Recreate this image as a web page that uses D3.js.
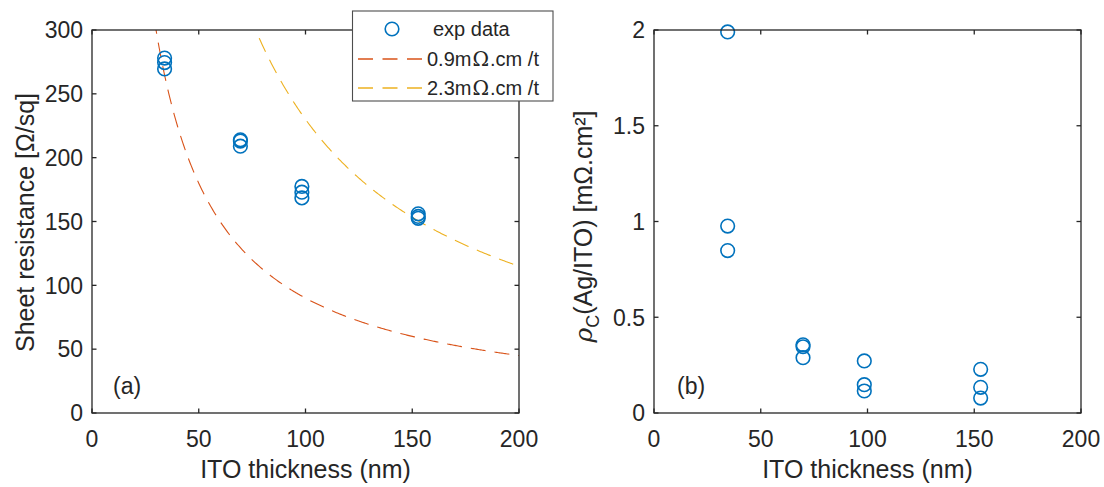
<!DOCTYPE html>
<html>
<head>
<meta charset="utf-8">
<script src="https://cdn.jsdelivr.net/npm/d3@7"></script>
<style>
  body { margin: 0; background: #fff; }
  svg { display: block; }
  text { font-family: "Liberation Sans", Arial, Helvetica, sans-serif; fill: #262626; }
</style>
</head>
<body>
<svg id="chart" width="1104" height="487"></svg>
<script>
// ---------- data ----------
const thickness = [34, 34, 34, 69.5, 69.5, 69.5, 98.3, 98.3, 98.3, 152.8, 152.8, 152.8];
const sheetRes  = [278, 274.5, 269.5, 214, 213, 209, 177.5, 173, 168.5, 156, 154, 152.5];
const thicknessB = [34.5, 34.5, 34.5, 69.8, 69.8, 69.8, 98.5, 98.5, 98.5, 153, 153, 153];
const rhoC      = [1.99, 0.976, 0.848, 0.356, 0.346, 0.289, 0.272, 0.148, 0.115, 0.228, 0.134, 0.078];
const modelRho  = [0.9, 2.3];          // mΩ.cm, R = rho / t
const modelPrefix = ["0.9m", "2.3m"];
const modelSuffix = ".cm /t";
const xTicks  = [0, 50, 100, 150, 200];
const yTicksA = [0, 50, 100, 150, 200, 250, 300];
const yTicksB = [0, 0.5, 1, 1.5, 2];

// ---------- style ----------
const blue = "#0072BD", colors = ["#D95319", "#EDB120"], axisCol = "#262626";
const svg = d3.select("#chart");
const H = { top: 30, bottom: 413 };
const panels = [
  { left: 92, right: 519, yDom: [0, 300], yTicks: yTicksA, id: "a" },
  { left: 654, right: 1081, yDom: [0, 2], yTicks: yTicksB, id: "b" }
];
const tickLen = 4.5;
const tickFont = "23px", labelFont = "25px";

function drawAxes(p, x, y) {
  const g = svg.append("g");
  xTicks.forEach(v => {
    g.append("line").attr("x1", x(v)).attr("x2", x(v)).attr("y1", H.bottom).attr("y2", H.bottom - tickLen)
      .attr("stroke", axisCol).attr("stroke-width", 1.3);
    g.append("line").attr("x1", x(v)).attr("x2", x(v)).attr("y1", H.top).attr("y2", H.top + tickLen)
      .attr("stroke", axisCol).attr("stroke-width", 1.3);
    g.append("text").attr("x", x(v)).attr("y", 447).attr("text-anchor", "middle")
      .style("font-size", tickFont).text(v);
  });
  p.yTicks.forEach(v => {
    g.append("line").attr("x1", p.left).attr("x2", p.left + tickLen).attr("y1", y(v)).attr("y2", y(v))
      .attr("stroke", axisCol).attr("stroke-width", 1.3);
    g.append("line").attr("x1", p.right).attr("x2", p.right - tickLen).attr("y1", y(v)).attr("y2", y(v))
      .attr("stroke", axisCol).attr("stroke-width", 1.3);
    g.append("text").attr("x", p.left - 9).attr("y", y(v)).attr("dy", "0.36em").attr("text-anchor", "end")
      .style("font-size", tickFont).text(v);
  });
  g.append("rect").attr("x", p.left).attr("y", H.top).attr("width", p.right - p.left).attr("height", H.bottom - H.top)
    .attr("fill", "none").attr("stroke", axisCol).attr("stroke-width", 1.3);
  g.append("text").attr("x", (p.left + p.right) / 2).attr("y", 478).attr("text-anchor", "middle")
    .style("font-size", labelFont).text("ITO thickness (nm)");
}

// ---------- panel (a) ----------
{
  const p = panels[0];
  const x = d3.scaleLinear().domain([0, 200]).range([p.left, p.right]);
  const y = d3.scaleLinear().domain(p.yDom).range([H.bottom, H.top]);
  svg.append("defs").append("clipPath").attr("id", "clipA")
    .append("rect").attr("x", p.left).attr("y", H.top).attr("width", p.right - p.left).attr("height", H.bottom - H.top);
  const tGrid = d3.range(20, 200.01, 0.5);
  const line = d3.line().x(d => x(d[0])).y(d => y(d[1]));
  modelRho.forEach((rho, i) => {
    const pts = tGrid.map(t => [t, rho * 1e4 / t]).filter(d => d[1] <= 330);
    svg.append("path").datum(pts).attr("d", line).attr("clip-path", "url(#clipA)")
      .attr("fill", "none").attr("stroke", colors[i]).attr("stroke-width", 1.1)
      .attr("stroke-dasharray", "15,9");
  });
  svg.append("g").selectAll("circle").data(thickness.map((t, i) => [t, sheetRes[i]])).join("circle")
    .attr("cx", d => x(d[0])).attr("cy", d => y(d[1])).attr("r", 6.8)
    .attr("fill", "none").attr("stroke", blue).attr("stroke-width", 1.6);
  drawAxes(p, x, y);
  svg.append("text").attr("transform", `translate(34,${(H.top + H.bottom) / 2 + 1}) rotate(-90)`)
    .attr("text-anchor", "middle").style("font-size", labelFont).text("Sheet resistance [Ω/sq]");
  svg.append("text").attr("x", 113).attr("y", 394).style("font-size", tickFont).text("(a)");

  // legend
  const lg = svg.append("g");
  lg.append("rect").attr("x", 352.5).attr("y", 11).attr("width", 200.5).attr("height", 90)
    .attr("fill", "#fff").attr("stroke", "#4d4d4d").attr("stroke-width", 1.1);
  lg.append("circle").attr("cx", 392).attr("cy", 29).attr("r", 6.8)
    .attr("fill", "none").attr("stroke", blue).attr("stroke-width", 1.6);
  lg.append("text").attr("x", 433).attr("y", 29).attr("dy", "0.36em").style("font-size", "20px").text("exp data");
  modelPrefix.forEach((pre, i) => {
    const yy = 59 + i * 29;
    lg.append("line").attr("x1", 358).attr("x2", 422).attr("y1", yy).attr("y2", yy)
      .attr("stroke", colors[i]).attr("stroke-width", 1.3).attr("stroke-dasharray", "15,9.5");
    const t = lg.append("text").attr("x", 427).attr("y", yy).attr("dy", "0.36em").style("font-size", "20px");
    t.append("tspan").text(pre);
    t.append("tspan").attr("dx", 1).style("font-family", "'DejaVu Serif', 'Liberation Serif', serif")
      .style("font-size", "20px").text("Ω");
    t.append("tspan").attr("dx", 1).text(modelSuffix);
  });
}

// ---------- panel (b) ----------
{
  const p = panels[1];
  const x = d3.scaleLinear().domain([0, 200]).range([p.left, p.right]);
  const y = d3.scaleLinear().domain(p.yDom).range([H.bottom, H.top]);
  svg.append("g").selectAll("circle").data(thicknessB.map((t, i) => [t, rhoC[i]])).join("circle")
    .attr("cx", d => x(d[0])).attr("cy", d => y(d[1])).attr("r", 6.8)
    .attr("fill", "none").attr("stroke", blue).attr("stroke-width", 1.6);
  drawAxes(p, x, y);
  const lab = svg.append("text").attr("transform", `translate(592,${(H.top + H.bottom) / 2 + 5}) rotate(-90)`)
    .attr("text-anchor", "middle").style("font-size", labelFont);
  lab.append("tspan").style("font-family", "'DejaVu Serif', 'Liberation Serif', serif").style("font-style", "italic").text("ρ");
  lab.append("tspan").attr("dy", 7).style("font-size", "18px").text("C");
  lab.append("tspan").attr("dy", -7).text("(Ag/ITO) [mΩ.cm²]");
  svg.append("text").attr("x", 677).attr("y", 394).style("font-size", tickFont).text("(b)");
}
</script>
</body>
</html>
